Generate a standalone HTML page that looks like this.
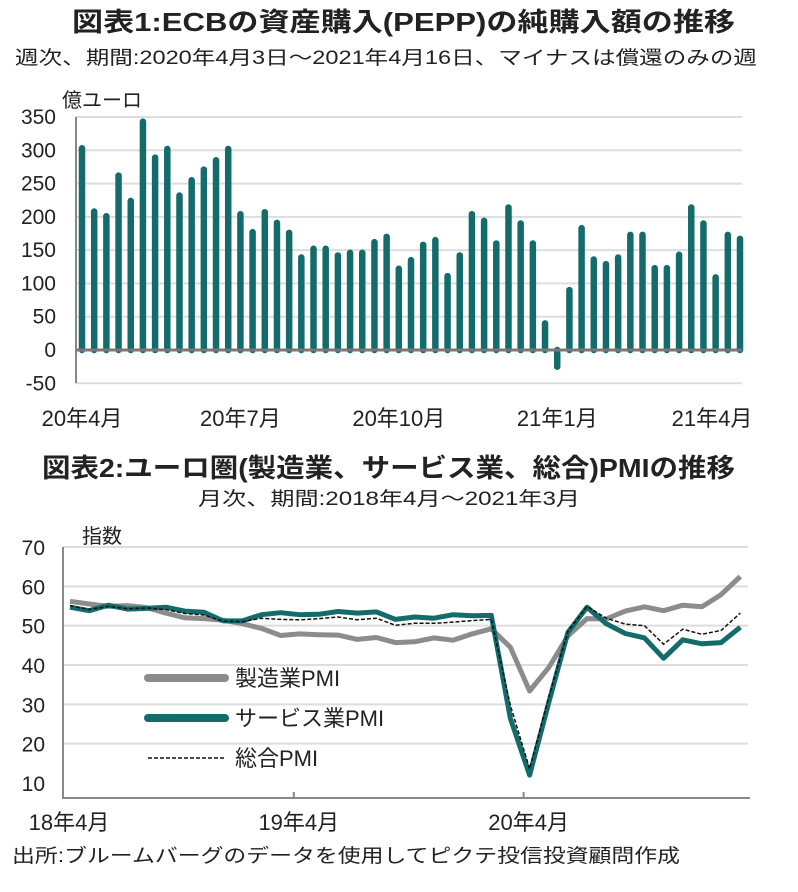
<!DOCTYPE html>
<html><head><meta charset="utf-8"><style>
body{margin:0;background:#fff;font-family:"Liberation Sans","Noto Sans CJK JP",sans-serif;}
svg text{font-family:"Liberation Sans","Noto Sans CJK JP",sans-serif;fill:#222;}
</style></head><body>
<svg id="s" width="798" height="887" viewBox="0 0 798 887">
<text x="72" y="31" font-size="26" font-weight="bold" textLength="663" lengthAdjust="spacingAndGlyphs">図表1:ECBの資産購入(PEPP)の純購入額の推移</text>
<text x="15" y="64" font-size="19" textLength="742" lengthAdjust="spacingAndGlyphs">週次、期間:2020年4月3日～2021年4月16日、マイナスは償還のみの週</text>
<text x="62" y="107" font-size="20">億ユーロ</text>
<g id="c1"></g>
<text x="42" y="477" font-size="26" font-weight="bold" textLength="693" lengthAdjust="spacingAndGlyphs">図表2:ユーロ圏(製造業、サービス業、総合)PMIの推移</text>
<text x="198" y="505" font-size="19" textLength="382" lengthAdjust="spacingAndGlyphs">月次、期間:2018年4月～2021年3月</text>
<text x="82" y="543" font-size="20">指数</text>
<g id="c2"></g>
<text x="12" y="862" font-size="19" textLength="668" lengthAdjust="spacingAndGlyphs">出所:ブルームバーグのデータを使用してピクテ投信投資顧問作成</text>
</svg>
<script>
const NS="http://www.w3.org/2000/svg";
function mk(p,t,a){const e=document.createElementNS(NS,t);for(const k in a)e.setAttribute(k,a[k]);p.appendChild(e);return e;}
// Chart 1 data
const weeklyValues=[303,208,201,262,224,343,289,302,232,255,271,285,302,204,177,207,191,176,139,152,152,142,146,146,162,170,122,135,158,165,111,142,204,194,160,214,190,160,40,-25,90,183,136,129,139,173,173,123,123,143,214,190,109,173,167];
const c1Ticks=[350,300,250,200,150,100,50,0,-50];
const c1XLabels=["20年4月","20年7月","20年10月","21年1月","21年4月"];
const c1XLabelIdx=[0,13,26,39,54];
const g1=document.getElementById('c1');
const y1=v=>350-v*(233/350);
const x1=i=>82+i*(740-82)/(weeklyValues.length-1);
c1Ticks.forEach(t=>{
 if(t!==0){const l=mk(g1,'line',{x1:76,x2:742,y1:y1(t),y2:y1(t),stroke:'#ddd','stroke-width':2});
 
 }
 const tx=mk(g1,'text',{x:56,y:y1(t)+7,'font-size':21,'text-anchor':'end'});tx.textContent=t;
 
 
});
const ax1=mk(g1,'line',{x1:76,x2:76,y1:y1(350),y2:y1(-50),stroke:'#888','stroke-width':2});


weeklyValues.forEach((v,i)=>{
 const r=mk(g1,'line',{x1:x1(i),x2:x1(i),y1:y1(0),y2:y1(v),stroke:'#146b6c','stroke-width':6.5,'stroke-linecap':'round'});
 
 
});
const zx=mk(g1,'line',{x1:76,x2:742,y1:y1(0),y2:y1(0),stroke:'#777','stroke-width':3});


c1XLabels.forEach((s,k)=>{
 const i=c1XLabelIdx[k];
 const t=mk(g1,'text',{x:Math.min(Math.max(x1(i),70),712),y:426,'font-size':22,'text-anchor':'middle'});t.textContent=s;
 
 
});
// Chart 2 data
const mfg=[56.2,55.5,54.9,55.1,54.6,53.2,52.0,51.8,51.4,50.5,49.3,47.5,47.9,47.7,47.6,46.5,47.0,45.7,45.9,46.9,46.3,47.9,49.2,44.5,33.4,39.4,47.4,51.8,51.7,53.7,54.8,53.8,55.2,54.8,57.9,62.5];
const svc=[54.7,53.8,55.2,54.2,54.4,54.7,53.7,53.4,51.2,51.2,52.8,53.3,52.8,52.9,53.6,53.2,53.5,51.6,52.2,51.9,52.8,52.5,52.6,26.4,12.0,30.5,48.3,54.7,50.5,48.0,46.9,41.7,46.4,45.4,45.7,49.6];
const comp=[55.1,54.1,54.9,54.3,54.5,54.1,53.1,52.7,51.1,51.0,51.9,51.6,51.5,51.8,52.2,51.5,51.9,50.1,50.6,50.6,50.9,51.3,51.6,29.7,13.6,31.9,48.5,54.9,51.9,50.4,50.0,45.3,49.1,47.8,48.8,53.2];
const c2Ticks=[70,60,50,40,30,20,10];
const c2XLabels=["18年4月","19年4月","20年4月"];
const c2XLabelIdx=[0,12,24];
const g2=document.getElementById('c2');
const y2=v=>783-(v-10)*(236/60);
const x2=i=>70+i*19.15;
c2Ticks.forEach(t=>{
 if(t!==10){const l=mk(g2,'line',{x1:63,x2:748,y1:y2(t),y2:y2(t),stroke:'#ddd','stroke-width':2});
 
 }
 const tx=mk(g2,'text',{x:45,y:y2(t)+8,'font-size':21,'text-anchor':'end'});tx.textContent=t;
 
 
});
const ay=mk(g2,'path',{d:'M63 547V798H750',fill:'none',stroke:'#888','stroke-width':2});


[12,24].forEach(i=>{const tk=mk(g2,'line',{x1:x2(i)-6,x2:x2(i)-6,y1:792,y2:798,stroke:'#888','stroke-width':2});
 
 });
c2XLabels.forEach((s,k)=>{
 const t=mk(g2,'text',{x:x2(c2XLabelIdx[k])-1,y:830,'font-size':22,'text-anchor':'middle'});t.textContent=s;
 
 
});
const pts=a=>a.map((v,i)=>x2(i).toFixed(1)+','+y2(v).toFixed(1)).join(' ');
const pm=mk(g2,'polyline',{points:pts(mfg),fill:'none',stroke:'#8c8c8c','stroke-width':5,'stroke-linejoin':'round'});


const ps=mk(g2,'polyline',{points:pts(svc),fill:'none',stroke:'#146b6c','stroke-width':5,'stroke-linejoin':'round'});


const pc=mk(g2,'polyline',{points:pts(comp),fill:'none',stroke:'#111','stroke-width':1.5,'stroke-dasharray':'4,2'});


const leg=[["製造業PMI",'#8c8c8c',8,null,678],["サービス業PMI",'#146b6c',8,null,718],["総合PMI",'#111',1.5,'4,2',758]];
leg.forEach(([s,c,w,d,y])=>{
 const a={x1:148,x2:225,y1:y,y2:y,stroke:c,'stroke-width':w,'stroke-linecap':d?'butt':'round'};if(d)a['stroke-dasharray']=d;
 const l=mk(g2,'line',a);
 
 
 const t=mk(g2,'text',{x:235,y:y+8,'font-size':22});t.textContent=s;
 
 
});
</script>
</body></html>
